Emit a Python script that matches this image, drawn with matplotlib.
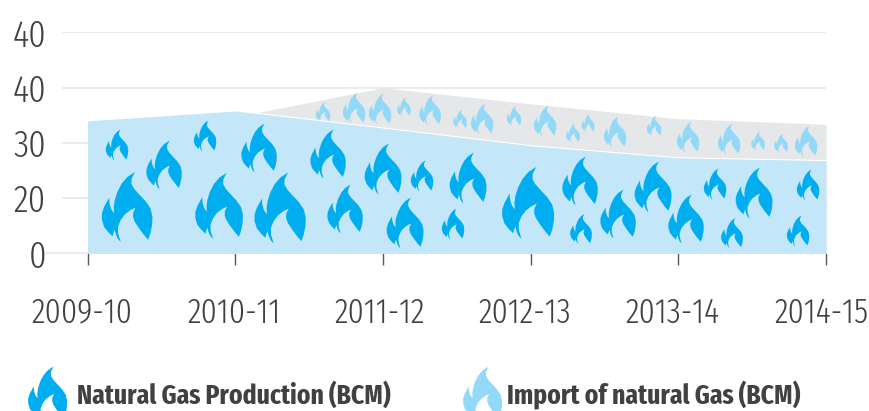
import numpy as np
import matplotlib
matplotlib.use("Agg")
import matplotlib.pyplot as plt
from matplotlib.path import Path
from matplotlib.transforms import ScaledTranslation

# ---- data ----
years = ["2009-10", "2010-11", "2011-12", "2012-13", "2013-14", "2014-15"]
production = [24.0, 25.8, 22.7, 19.5, 17.3, 16.8]
total_supply = [22.0, 24.7, 30.0, 27.1, 24.4, 23.4]
ytick_vals = [0, 10, 20, 30, 40]
ytick_labels = ["0", "20", "30", "40", "40"]
series_names = ["Natural Gas Production (BCM)", "Import of natural Gas (BCM)"]

# ---- decorative flames, placed in reference pixels (x, y, height) ----
flames_dark = [(117,145,31),(164,165,49),(127,207,70),(205,136,31),(219,206,66),
               (259,148,49),(280,208,71),(328,154,49),(345,209,49),(383,169,51),
               (422,176,31),(405,223,51),(453,224,31),(468,178,51),(528,203,72),
               (580,181,49),(581,229,30),(618,214,49),(653,187,51),(686,219,49),
               (715,184,31),(732,233,30),(754,193,51),(808,185,31),(798,231,31)]
flames_light = [(323,112,20),(354,108,31),(380,109,31),(404,107,19),(430,110,30),
                (460,119,19),(482,119,31),(514,116,20),(545,121,31),(573,133,19),
                (588,123,18),(615,132,31),(654,126,20),(688,137,31),(729,139,31),
                (758,141,19),(781,143,19),(806,141,31)]

DARK, LIGHT = "#00AEEF", "#92D9F7"
PALE, GREY = "#C3E7F9", "#E6E7E8"
TEXT = "#414042"
TICK_FONT = ["Fira Sans Extra Condensed", "Roboto Condensed", "Liberation Sans"]
LEGEND_FONT = ["Fira Sans Extra Condensed", "Barlow Condensed", "Liberation Sans"]

outline = [(118,20),(108,40),(107,55),(115,70),(130,87),(150,108),(165,130),(171,155),
           (170,180),(165,205),(158,225),(145,210),(130,190),(117,170),(112,155),(113,142),
           (120,128),(105,135),(88,148),(75,165),(67,185),(67,205),(75,232),(66,222),
           (60,208),(57,195),(53,205),(50,215),(38,203),(25,187),(18,165),(18,145),
           (25,125),(40,98),(41,115),(46,132),(55,145),(54,125),(57,105),(65,80),(78,55),(95,35),(118,20)]
verts = (np.array(outline, float) - [94, 126]) / 106.0 * [1, -1]
flame = Path(verts, closed=True)


def size(h_px):
    return (np.asarray(h_px, float) * 0.72) ** 2


W, H = 869, 411
fig = plt.figure(figsize=(W / 100, H / 100), dpi=100)

X0, X5, Y0, Y40 = 87.5, 826.0, 253.5, 32.5
LEFT = 46.0
ax = fig.add_axes([LEFT / W, 1 - Y0 / H, (X5 - LEFT) / W, (Y0 - Y40) / H])
dx = (X5 - X0) / 5
dy = (Y0 - Y40) / 40
ax.set_xlim((LEFT - X0) / dx, 5)
ax.set_ylim(0, 40)
x = np.arange(len(years))

ax.hlines(ytick_vals[1:], (62 - X0) / dx, 5, color=GREY, lw=1.2, zorder=1)
ax.fill_between(x, 0, total_supply, color=GREY, lw=0, zorder=2)
ax.plot(x, production, color="white", lw=1.0, zorder=2.5)
ax.fill_between(x, 0, production, color=PALE, lw=0, zorder=3)

for group, colour, z in ((flames_light, LIGHT, 2.2), (flames_dark, DARK, 4)):
    g = np.array(group, float)
    ax.scatter((g[:, 0] - X0) / dx, (Y0 - g[:, 1]) / dy, s=size(g[:, 2]),
               marker=flame, color=colour, linewidths=0, zorder=z)

for s in ("top", "left", "right"):
    ax.spines[s].set_visible(False)
ax.spines["bottom"].set_color(GREY)
ax.spines["bottom"].set_linewidth(1.2)

ax.set_yticks(ytick_vals, ytick_labels, family=TICK_FONT, weight=300)
ax.tick_params(axis="y", length=0, pad=0, labelsize=27, labelcolor=TEXT)
ax.set_xticks(x, years, family=TICK_FONT, weight=300)
ax.tick_params(axis="x", length=8.5, width=1.0, color="#58595B", pad=22,
               labelsize=25, labelcolor=TEXT)
shift = [-6, -1, -3, -6, -6, -5]
for lab, d in zip(ax.get_xticklabels(), shift):
    lab.set_transform(lab.get_transform() + ScaledTranslation(d / 100, 0, fig.dpi_scale_trans))

# legend
lg = fig.add_axes([0, 0, 1, 1], facecolor="none")
lg.set_xlim(0, W)
lg.set_ylim(H, 0)
lg.axis("off")
lg.scatter([47], [393], s=size(54), marker=flame, color=DARK, linewidths=0)
lg.scatter([482], [393], s=size(54), marker=flame, color=LIGHT, linewidths=0)
lg.text(77, 395, series_names[0], fontsize=20, family=LEGEND_FONT, fontweight="bold",
        color=TEXT, va="center", ha="left")
lg.text(507, 395, series_names[1], fontsize=20, family=LEGEND_FONT, fontweight="bold",
        color=TEXT, va="center", ha="left")

fig.savefig("out.png", dpi=100)
